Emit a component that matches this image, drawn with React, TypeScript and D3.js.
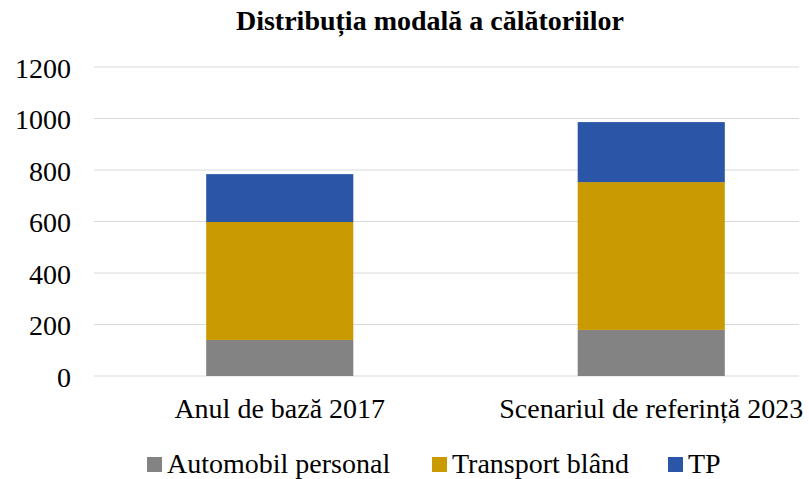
import React from "react";
import * as d3 from "d3";

const categories = ["Anul de bază 2017", "Scenariul de referință 2023"];
const seriesNames = ["Automobil personal", "Transport blând", "TP"];
const automobil = [140, 179];
const transportBland = [458, 574];
const tp = [186, 233];
const yTicks = [0, 200, 400, 600, 800, 1000, 1200];
const title = "Distribuția modală a călătoriilor";

const colors = ["#838383", "#c99a02", "#2b55a6"];

const W = 809;
const H = 479;
const FONT = "Liberation Serif";

export default function App() {
  const y = d3.scaleLinear().domain([0, 1200]).range([376, 67]);
  const x = d3.scaleBand<string>().domain(categories).range([94, 837]).paddingInner(0.604).paddingOuter(0.302);
  const gridX0 = 94;
  const gridX1 = 799;

  const rows = categories.map((c, i) => ({
    cat: c,
    [seriesNames[0]]: automobil[i],
    [seriesNames[1]]: transportBland[i],
    [seriesNames[2]]: tp[i],
  }));
  const stack = d3.stack<any>().keys(seriesNames)(rows);

  const legendX = [147, 432, 668];

  return (
    <svg width={W} height={H} style={{ position: "absolute", left: 0, top: 0, background: "#fff", fontFamily: FONT }}>
      <text x={430} y={30} textAnchor="middle" fontWeight="bold" fontSize={28} fill="#000" style={{ fontFamily: FONT }}>
        {title}
      </text>
      {yTicks.map((t) => (
        <g key={t}>
          <line x1={gridX0} x2={gridX1} y1={y(t)} y2={y(t)} stroke="#d9d9d9" strokeWidth={1} />
          <text x={71} y={y(t)} dy="0.39em" textAnchor="end" fontSize={28} fill="#000" style={{ fontFamily: FONT }}>
            {t}
          </text>
        </g>
      ))}
      {stack.map((s, si) => (
        <g key={s.key} fill={colors[si]}>
          {s.map((d, i) => (
            <rect
              key={i}
              x={x(categories[i])}
              width={x.bandwidth()}
              y={y(d[1])}
              height={y(d[0]) - y(d[1])}
            />
          ))}
        </g>
      ))}
      {categories.map((c) => (
        <text key={c} x={(x(c) as number) + x.bandwidth() / 2} y={418} textAnchor="middle" fontSize={28} fill="#000" style={{ fontFamily: FONT }}>
          {c}
        </text>
      ))}
      {seriesNames.map((n, i) => (
        <g key={n}>
          <rect x={legendX[i]} y={457} width={15} height={15} fill={colors[i]} />
          <text x={legendX[i] + 20} y={473} fontSize={28} fill="#000" style={{ fontFamily: FONT }}>
            {n}
          </text>
        </g>
      ))}
    </svg>
  );
}
